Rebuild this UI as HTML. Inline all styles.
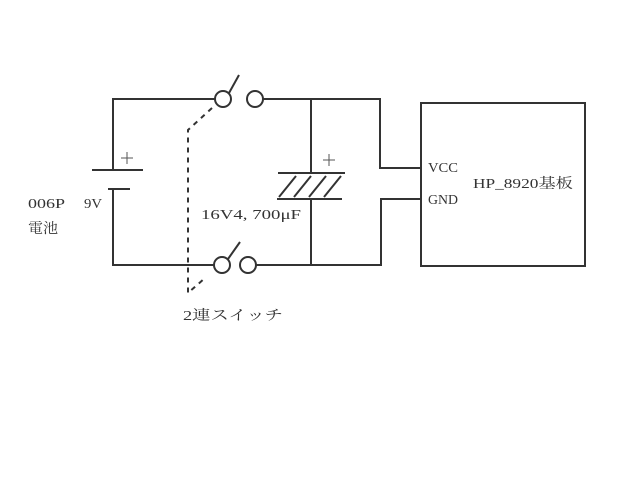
<!DOCTYPE html>
<html><head><meta charset="utf-8"><style>html,body{margin:0;padding:0;background:#fff}</style></head><body>
<svg width="640" height="480" xmlns="http://www.w3.org/2000/svg" style="display:block">
<g stroke="#333" stroke-width="2" fill="none">
<polyline points="215,99 113,99 113,170"/>
<line x1="92" y1="170" x2="143" y2="170"/>
<line x1="108" y1="189" x2="130" y2="189"/>
<polyline points="113,189 113,265 214,265"/>
<circle cx="223" cy="99" r="8"/>
<circle cx="255" cy="99" r="8"/>
<line x1="229" y1="93" x2="239" y2="75"/>
<polyline points="263,99 380,99 380,168 421,168"/>
<line x1="311" y1="99" x2="311" y2="173"/>
<line x1="278" y1="173" x2="345" y2="173"/>
<line x1="277" y1="199" x2="342" y2="199"/>
<line x1="311" y1="199" x2="311" y2="265"/>
<line x1="279" y1="197" x2="296" y2="176"/>
<line x1="294" y1="197" x2="311" y2="176"/>
<line x1="309" y1="197" x2="326" y2="176"/>
<line x1="324" y1="197" x2="341" y2="176"/>
<circle cx="222" cy="265" r="8"/>
<circle cx="248" cy="265" r="8"/>
<line x1="228" y1="259" x2="240" y2="242"/>
<polyline points="256,265 381,265 381,199 421,199"/>
<rect x="421" y="103" width="164" height="163"/>
<polyline points="212,108 188,130 188,293 205,278" stroke-dasharray="5,5"/>
</g>
<g stroke="#555" stroke-width="1">
<line x1="121" y1="158" x2="133" y2="158"/><line x1="127" y1="152" x2="127" y2="164"/>
<line x1="323" y1="160" x2="335" y2="160"/><line x1="329" y1="154" x2="329" y2="166"/>
</g>
<g font-family="'Liberation Serif','Noto Serif CJK SC',serif" font-size="14" fill="#333">
<text x="28" y="208" textLength="37" lengthAdjust="spacingAndGlyphs">006P</text>
<text x="28" y="233" textLength="30" lengthAdjust="spacingAndGlyphs">電池</text>
<text x="84" y="208" textLength="18" lengthAdjust="spacingAndGlyphs">9V</text>
<text x="201" y="219" textLength="100" lengthAdjust="spacingAndGlyphs">16V4, 700μF</text>
<text x="183" y="320" textLength="100" lengthAdjust="spacingAndGlyphs">2連スイッチ</text>
<text x="428" y="172" textLength="30" lengthAdjust="spacingAndGlyphs">VCC</text>
<text x="428" y="204" textLength="30" lengthAdjust="spacingAndGlyphs">GND</text>
<text x="473" y="188" textLength="100" lengthAdjust="spacingAndGlyphs">HP_8920基板</text>
</g>
</svg>
</body></html>
